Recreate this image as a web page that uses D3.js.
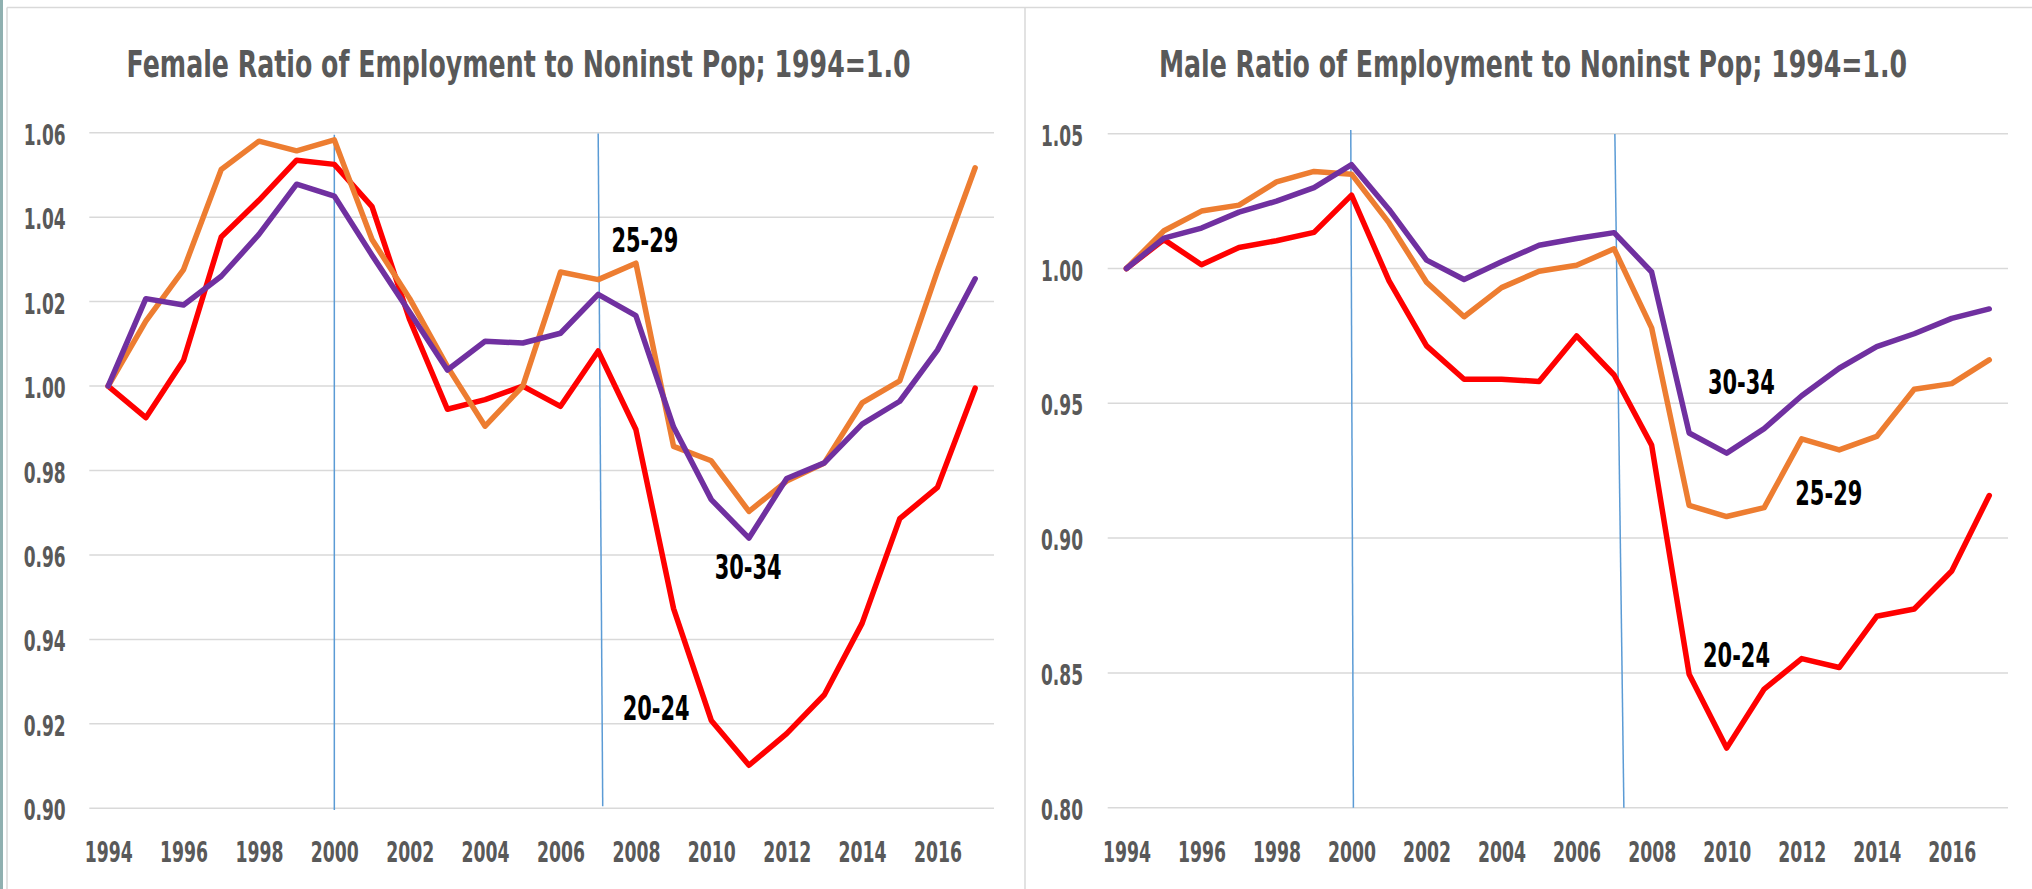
<!DOCTYPE html>
<html>
<head>
<meta charset="utf-8">
<script src="https://cdn.jsdelivr.net/npm/d3@7"></script>
<style>
  html, body { margin: 0; padding: 0; background: #ffffff; }
  svg { display: block; }
  .lbl { font-family: "Liberation Sans Narrow", "Arial Narrow", "DejaVu Sans Condensed", "Liberation Sans", sans-serif; font-weight: bold; }
</style>
</head>
<body>
<svg id="chart" width="2032" height="889"></svg>
<script>
// ---------- data ----------
const years = [1994, 1995, 1996, 1997, 1998, 1999, 2000, 2001, 2002, 2003, 2004, 2005,
               2006, 2007, 2008, 2009, 2010, 2011, 2012, 2013, 2014, 2015, 2016, 2017];
const xTickYears = [1994, 1996, 1998, 2000, 2002, 2004, 2006, 2008, 2010, 2012, 2014, 2016];

const female2024 = [1.000, 0.9925, 1.0061, 1.0353, 1.044, 1.0535, 1.0525, 1.0425, 1.0157, 0.9945, 0.9968, 1.000,
                    0.9952, 1.0083, 0.9897, 0.9473, 0.9208, 0.9102, 0.9177, 0.9269, 0.9438, 0.9686, 0.976, 0.9995];
const female2529 = [1.000, 1.0154, 1.0276, 1.0513, 1.058, 1.0557, 1.0583, 1.0347, 1.0207, 1.0046, 0.9905, 1.000,
                    1.027, 1.0252, 1.0291, 0.9857, 0.9823, 0.9703, 0.9775, 0.9818, 0.996, 1.0012, 1.0273, 1.0517];
const female3034 = [1.000, 1.0207, 1.0192, 1.026, 1.0359, 1.0478, 1.045, 1.031, 1.0175, 1.0038, 1.0106, 1.0102,
                    1.0125, 1.0217, 1.0167, 0.9903, 0.9731, 0.964, 0.9781, 0.9818, 0.991, 0.9964, 1.0085, 1.0254];

const male2024 = [1.000, 1.0107, 1.0014, 1.0078, 1.0103, 1.0134, 1.0272, 0.9954, 0.9713, 0.9589, 0.9589, 0.9581,
                  0.975, 0.9605, 0.9345, 0.8495, 0.8221, 0.844, 0.8553, 0.852, 0.871, 0.8737, 0.8878, 0.9158];
const male2529 = [1.000, 1.014, 1.0213, 1.0235, 1.0321, 1.036, 1.035, 1.0169, 0.9949, 0.9821, 0.9929, 0.999,
                  1.0012, 1.0073, 0.978, 0.9121, 0.908, 0.9113, 0.9368, 0.9327, 0.9377, 0.9552, 0.9573, 0.9661];
const male3034 = [1.000, 1.0113, 1.015, 1.0209, 1.025, 1.030, 1.0385, 1.0219, 1.0031, 0.9959, 1.0025, 1.0086,
                  1.0111, 1.0133, 0.9987, 0.939, 0.9315, 0.9406, 0.9528, 0.963, 0.971, 0.9758, 0.9815, 0.985];

const femaleYTicks = [0.90, 0.92, 0.94, 0.96, 0.98, 1.00, 1.02, 1.04, 1.06];
const maleYTicks = [0.80, 0.85, 0.90, 0.95, 1.00, 1.05];

const seriesNames = ["20-24", "25-29", "30-34"];
const seriesColors = ["#FF0000", "#ED7D31", "#7030A0"];

// vertical marker lines: [yearTop, valueTop, yearBottom, valueBottom]
const femaleMarkers = [[2000, 1.0595, 2000, 0.8996], [2007, 1.0598, 2007.12, 0.9005]];
const maleMarkers = [[1999.98, 1.0514, 2000.05, 0.8], [2007.02, 1.0499, 2007.26, 0.8]];

// in-plot series labels: [text, year, value] (left start / baseline)
const femaleLabels = [["25-29", 2007.35, 1.0318], ["30-34", 2010.09, 0.9543], ["20-24", 2007.65, 0.9208]];
const maleLabels = [["30-34", 2009.5, 0.9533], ["25-29", 2011.83, 0.9124], ["20-24", 2009.37, 0.8522]];

const titles = ["Female Ratio of Employment to Noninst Pop; 1994=1.0",
                "Male Ratio of Employment to Noninst Pop; 1994=1.0"];

// ---------- drawing ----------
const svg = d3.select("#chart");

// page frame
svg.append("rect").attr("x", 0).attr("y", 0).attr("width", 2032).attr("height", 889).attr("fill", "#fff");
svg.append("line").attr("x1", 1.5).attr("x2", 1.5).attr("y1", 0).attr("y2", 889)
   .attr("stroke", "#8FB0B0").attr("stroke-width", 3);
svg.append("line").attr("x1", 7).attr("x2", 7).attr("y1", 7.5).attr("y2", 889)
   .attr("stroke", "#D9D9D9").attr("stroke-width", 1.5);
svg.append("line").attr("x1", 7).attr("x2", 2032).attr("y1", 7.5).attr("y2", 7.5)
   .attr("stroke", "#D9D9D9").attr("stroke-width", 1.5);
svg.append("line").attr("x1", 1025).attr("x2", 1025).attr("y1", 7.5).attr("y2", 889)
   .attr("stroke", "#D9D9D9").attr("stroke-width", 1.5);

function drawPanel(cfg) {
  const g = svg.append("g");
  const x = d3.scaleLinear().domain([years[0] - 0.5, years[years.length - 1] + 0.5]).range([cfg.left, cfg.right]);
  const y = d3.scaleLinear().domain([cfg.yTicks[0], cfg.yTicks[cfg.yTicks.length - 1]]).range([cfg.bottom, cfg.top]);

  // title
  g.append("text").attr("class", "lbl")
    .attr("x", cfg.titleX).attr("y", 77)
    .attr("text-anchor", "middle")
    .attr("font-size", 38).attr("fill", "#595959")
    .attr("textLength", cfg.titleLen).attr("lengthAdjust", "spacingAndGlyphs")
    .text(cfg.title);

  // gridlines
  g.append("g").selectAll("line").data(cfg.yTicks).join("line")
    .attr("x1", cfg.left).attr("x2", cfg.right)
    .attr("y1", d => y(d)).attr("y2", d => y(d))
    .attr("stroke", "#D9D9D9").attr("stroke-width", 1.5);

  // y axis
  const yAxis = g.append("g").attr("transform", `translate(${cfg.left},0)`)
    .call(d3.axisLeft(y).tickValues(cfg.yTicks).tickSize(0).tickFormat(d3.format(".2f")));
  yAxis.select(".domain").remove();
  yAxis.selectAll("text").attr("class", "lbl")
    .attr("x", cfg.yLabelX).attr("dy", null).attr("y", 11.5)
    .attr("font-size", 29).attr("fill", "#595959")
    .attr("textLength", 42).attr("lengthAdjust", "spacingAndGlyphs");

  // x axis
  const xAxis = g.append("g").attr("transform", `translate(0,${cfg.bottom})`)
    .call(d3.axisBottom(x).tickValues(xTickYears).tickSize(0).tickFormat(d3.format("d")));
  xAxis.select(".domain").remove();
  xAxis.selectAll("text").attr("class", "lbl")
    .attr("dy", null).attr("y", 54)
    .attr("font-size", 29).attr("fill", "#595959")
    .attr("textLength", 48).attr("lengthAdjust", "spacingAndGlyphs");

  // marker lines
  g.append("g").selectAll("line").data(cfg.markers).join("line")
    .attr("x1", d => x(d[0])).attr("y1", d => y(d[1]))
    .attr("x2", d => x(d[2])).attr("y2", d => y(d[3]))
    .attr("stroke", "#5B9BD5").attr("stroke-width", 1.5);

  // series lines
  const line = d3.line().x((d, i) => x(years[i])).y(d => y(d));
  cfg.series.forEach((s, i) => {
    g.append("path").datum(s)
      .attr("d", line)
      .attr("fill", "none")
      .attr("stroke", seriesColors[i])
      .attr("stroke-width", 5.5)
      .attr("stroke-linejoin", "round")
      .attr("stroke-linecap", "round");
  });

  // labels
  g.append("g").selectAll("text").data(cfg.labels).join("text")
    .attr("class", "lbl")
    .attr("x", d => x(d[1])).attr("y", d => y(d[2]))
    .attr("font-size", 34).attr("fill", "#000000")
    .attr("textLength", 67).attr("lengthAdjust", "spacingAndGlyphs")
    .text(d => d[0]);
}

drawPanel({
  left: 89.3, right: 994, top: 132.7, bottom: 808.3,
  yTicks: femaleYTicks, yLabelX: -23.6,
  series: [female2024, female2529, female3034],
  markers: femaleMarkers, labels: femaleLabels,
  title: titles[0], titleX: 518.6, titleLen: 784
});

drawPanel({
  left: 1107.7, right: 2008, top: 133.7, bottom: 807.7,
  yTicks: maleYTicks, yLabelX: -24.7,
  series: [male2024, male2529, male3034],
  markers: maleMarkers, labels: maleLabels,
  title: titles[1], titleX: 1533, titleLen: 748
});
</script>
</body>
</html>
